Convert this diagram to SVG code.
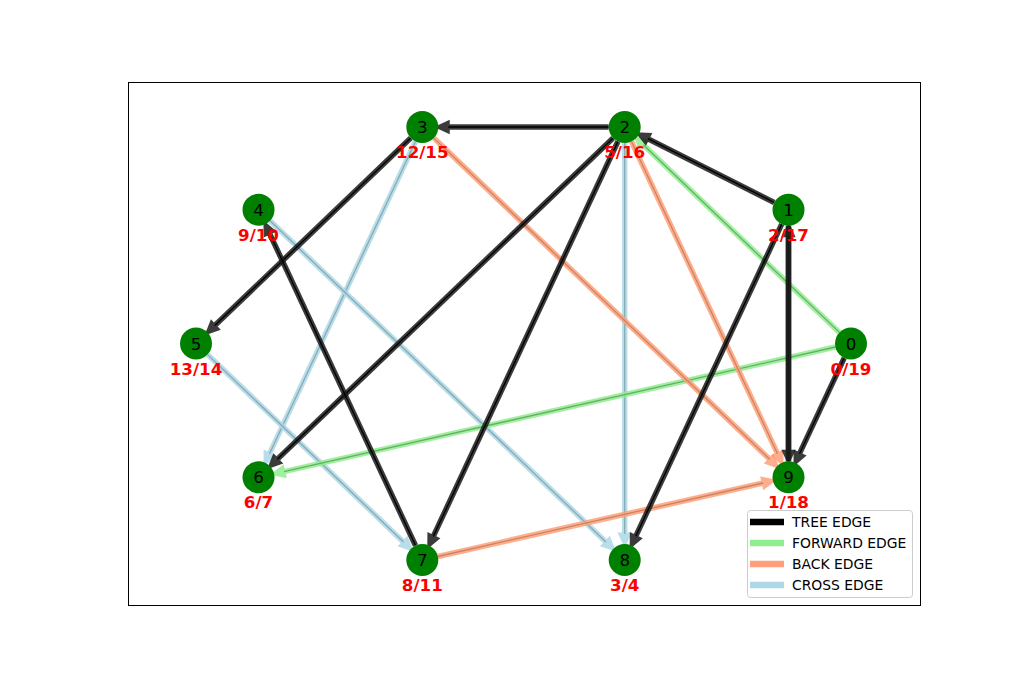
<svg xmlns="http://www.w3.org/2000/svg" width="1022" height="680" viewBox="0 0 1022 680">
<style>
.e{fill:none;stroke-width:5.5;stroke-linecap:butt}
.c{fill:none;stroke-width:1.3}
.t .e{stroke:#1a1a1a;opacity:0.85}.t .c{stroke:#000}
.f .e{stroke:#90ee90;opacity:0.85}.f .c{stroke:#66b066}
.b .e{stroke:#ffa07a;opacity:0.85}.b .c{stroke:#c98462}
.x .e{stroke:#add8e6;opacity:0.85}.x .c{stroke:#88aab5}
.t line.e{marker-end:url(#mt)}.f line.e{marker-end:url(#mf)}.b line.e{marker-end:url(#mb)}.x line.e{marker-end:url(#mx)}
.n circle{fill:#008000}
.n text.l{font-family:"DejaVu Sans",sans-serif;font-size:16.7px;text-anchor:middle;fill:#000}
.n text.d{font-family:"DejaVu Sans",sans-serif;font-size:16.7px;font-weight:bold;text-anchor:middle;fill:#ff0000}
.lg text{font-family:"DejaVu Sans",sans-serif;font-size:13.9px;fill:#000}
</style>
<defs>
<marker id="mt" markerUnits="userSpaceOnUse" orient="auto" refX="0" refY="0" markerWidth="20" markerHeight="20" viewBox="-2 -6 14 12" overflow="visible"><path d="M-1,-5 L10,0 L-1,5 z" fill="#1a1a1a"/></marker>
<marker id="mf" markerUnits="userSpaceOnUse" orient="auto" refX="0" refY="0" markerWidth="20" markerHeight="20" viewBox="-2 -6 14 12" overflow="visible"><path d="M-1,-5 L10,0 L-1,5 z" fill="#90ee90"/></marker>
<marker id="mb" markerUnits="userSpaceOnUse" orient="auto" refX="0" refY="0" markerWidth="20" markerHeight="20" viewBox="-2 -6 14 12" overflow="visible"><path d="M-1,-5 L10,0 L-1,5 z" fill="#ffa07a"/></marker>
<marker id="mx" markerUnits="userSpaceOnUse" orient="auto" refX="0" refY="0" markerWidth="20" markerHeight="20" viewBox="-2 -6 14 12" overflow="visible"><path d="M-1,-5 L10,0 L-1,5 z" fill="#add8e6"/></marker>
</defs>
<rect x="0" y="0" width="1022" height="680" fill="#fff"/>
<rect x="128.5" y="82.5" width="792" height="523" fill="none" stroke="#000" stroke-width="1"/>
<g id="edges">
<g class="x">
<line class="e" x1="415.5" y1="141.5" x2="269.5" y2="453.7"/><line class="c" x1="415.5" y1="141.5" x2="269.5" y2="453.7"/>
<line class="e" x1="270.1" y1="220.8" x2="605.9" y2="542"/><line class="c" x1="270.1" y1="220.8" x2="605.9" y2="542"/>
<line class="e" x1="207.6" y1="354.6" x2="403.5" y2="542"/><line class="c" x1="207.6" y1="354.6" x2="403.5" y2="542"/>
<line class="e" x1="624.7" y1="143" x2="624.7" y2="534"/><line class="c" x1="624.7" y1="143" x2="624.7" y2="534"/>
</g>
<g class="f">
<line class="e" x1="839.4" y1="332.4" x2="643.5" y2="145"/><line class="c" x1="839.4" y1="332.4" x2="643.5" y2="145"/>
<line class="e" x1="835.4" y1="347" x2="283.9" y2="471.6"/><line class="c" x1="835.4" y1="347" x2="283.9" y2="471.6"/>
</g>
<g class="b">
<line class="e" x1="433.9" y1="138.1" x2="769.7" y2="459.3"/><line class="c" x1="433.9" y1="138.1" x2="769.7" y2="459.3"/>
<line class="e" x1="631.5" y1="141.5" x2="777.5" y2="453.7"/><line class="c" x1="631.5" y1="141.5" x2="777.5" y2="453.7"/>
<line class="e" x1="437.9" y1="556.5" x2="763.1" y2="483"/><line class="c" x1="437.9" y1="556.5" x2="763.1" y2="483"/>
</g>
<g class="t">
<line class="e" x1="844.2" y1="358" x2="799.5" y2="453.7"/><line class="c" x1="844.2" y1="358" x2="799.5" y2="453.7"/>
<line class="e" x1="788.5" y1="461.3" x2="788.5" y2="235.7"/><line class="c" x1="788.5" y1="461.3" x2="788.5" y2="235.7"/>
<line class="e" x1="788.5" y1="225.7" x2="788.5" y2="451.3"/>
<line class="e" x1="781.7" y1="224.2" x2="635.7" y2="536.4"/><line class="c" x1="781.7" y1="224.2" x2="635.7" y2="536.4"/>
<line class="e" x1="774.2" y1="202.5" x2="647.9" y2="138.7"/><line class="c" x1="774.2" y1="202.5" x2="647.9" y2="138.7"/>
<line class="e" x1="608.7" y1="127" x2="448.3" y2="127"/><line class="c" x1="608.7" y1="127" x2="448.3" y2="127"/>
<line class="e" x1="410.7" y1="138.1" x2="214.8" y2="325.5"/><line class="c" x1="410.7" y1="138.1" x2="214.8" y2="325.5"/>
<line class="e" x1="613.1" y1="138.1" x2="277.3" y2="459.3"/><line class="c" x1="613.1" y1="138.1" x2="277.3" y2="459.3"/>
<line class="e" x1="617.9" y1="141.5" x2="433.3" y2="536.4"/><line class="c" x1="617.9" y1="141.5" x2="433.3" y2="536.4"/>
<line class="e" x1="415.5" y1="545.5" x2="269.5" y2="233.3"/><line class="c" x1="415.5" y1="545.5" x2="269.5" y2="233.3"/>
</g>
</g>
<g id="node0" class="n"><circle cx="851" cy="343.5" r="16"/><text class="l" x="851" y="349.5">0</text><text class="d" x="851" y="374.5">0/19</text></g>
<g id="node1" class="n"><circle cx="788.5" cy="209.7" r="16"/><text class="l" x="788.5" y="215.7">1</text><text class="d" x="788.5" y="240.7">2/17</text></g>
<g id="node2" class="n"><circle cx="624.7" cy="127" r="16"/><text class="l" x="624.7" y="133">2</text><text class="d" x="624.7" y="158">5/16</text></g>
<g id="node3" class="n"><circle cx="422.3" cy="127" r="16"/><text class="l" x="422.3" y="133">3</text><text class="d" x="422.3" y="158">12/15</text></g>
<g id="node4" class="n"><circle cx="258.5" cy="209.7" r="16"/><text class="l" x="258.5" y="215.7">4</text><text class="d" x="258.5" y="240.7">9/10</text></g>
<g id="node5" class="n"><circle cx="196" cy="343.5" r="16"/><text class="l" x="196" y="349.5">5</text><text class="d" x="196" y="374.5">13/14</text></g>
<g id="node6" class="n"><circle cx="258.5" cy="477.3" r="16"/><text class="l" x="258.5" y="483.3">6</text><text class="d" x="258.5" y="508.3">6/7</text></g>
<g id="node7" class="n"><circle cx="422.3" cy="560" r="16"/><text class="l" x="422.3" y="566">7</text><text class="d" x="422.3" y="591">8/11</text></g>
<g id="node8" class="n"><circle cx="624.7" cy="560" r="16"/><text class="l" x="624.7" y="566">8</text><text class="d" x="624.7" y="591">3/4</text></g>
<g id="node9" class="n"><circle cx="788.5" cy="477.3" r="16"/><text class="l" x="788.5" y="483.3">9</text><text class="d" x="788.5" y="508.3">1/18</text></g>
<g id="legend" class="lg">
<rect x="747.5" y="510.5" width="165" height="87" rx="3" fill="#fff" fill-opacity="0.8" stroke="#ccc" stroke-width="1"/>
<line x1="750" y1="522" x2="784" y2="522" stroke="#000" stroke-width="6.5"/>
<line x1="750" y1="543" x2="784" y2="543" stroke="#90ee90" stroke-width="6.5"/>
<line x1="750" y1="564" x2="784" y2="564" stroke="#ffa07a" stroke-width="6.5"/>
<line x1="750" y1="585" x2="784" y2="585" stroke="#add8e6" stroke-width="6.5"/>
<text x="792" y="527">TREE EDGE</text>
<text x="792" y="548">FORWARD EDGE</text>
<text x="792" y="569">BACK EDGE</text>
<text x="792" y="590">CROSS EDGE</text>
</g>
</svg>
